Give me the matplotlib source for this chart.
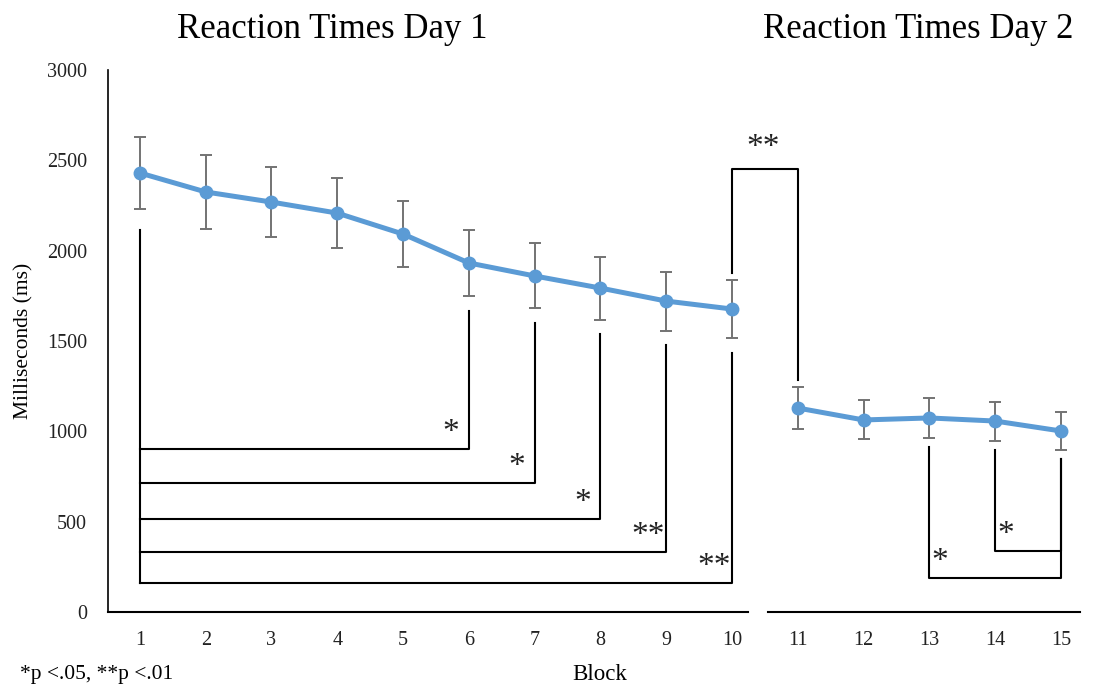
import matplotlib.pyplot as plt
import numpy as np

plt.rcParams['font.family'] = ['Liberation Serif', 'DejaVu Serif']

blocks = list(range(1, 16))
rt_mean = [2430, 2325, 2269, 2208, 2092, 1932, 1860, 1793, 1721, 1677,
           1129, 1063, 1074, 1057, 1002]
rt_err = [199, 205, 196, 194, 185, 185, 180, 174, 163, 163,
          116, 108, 111, 108, 105]
y_ticks = [0, 500, 1000, 1500, 2000, 2500, 3000]

# significance comparisons: (block a, block b, bar level in ms, label)
day1_brackets = [(1, 6, 902, '*'), (1, 7, 714, '*'), (1, 8, 515, '*'),
                 (1, 9, 332, '**'), (1, 10, 161, '**')]
day2_brackets = [(13, 15, 188, '*'), (14, 15, 338, '*')]
cross_bracket = (10, 11, 2452, '**')

line_col = '#5B9BD5'
err_col = '#737373'

fig = plt.figure(figsize=(10.95, 6.9), dpi=100)
ax = fig.add_axes([108/1095, 78/690, (1080-108)/1095, (612-70)/690])

m = np.array(rt_mean, dtype=float)
e = np.array(rt_err, dtype=float)
b = np.array(blocks)

for sel in (slice(0, 10), slice(10, 15)):
    ax.plot(b[sel], m[sel], color=line_col, lw=3.6, marker='o', ms=9,
            zorder=3, solid_capstyle='round')
ax.errorbar(b, m, yerr=e, fmt='none', ecolor=err_col, elinewidth=1.4,
            capsize=4.2, capthick=1.4, zorder=2)

ax.set_xlim(0.515, 15.29)
ax.set_ylim(0, 3000)
ax.set_yticks(y_ticks)
ax.set_yticklabels([str(t) for t in y_ticks])
ax.set_xticks(blocks)
ax.set_xticklabels([str(x) for x in blocks])
ax.tick_params(axis='both', length=0, labelsize=14.5, colors='#222222')
ax.tick_params(axis='y', pad=15)
ax.tick_params(axis='x', pad=14)
for s in ('top', 'right', 'bottom'):
    ax.spines[s].set_visible(False)
ax.spines['left'].set_linewidth(1.2)

# broken x axis line
ax.plot([0.515, 10.25], [0, 0], color='black', lw=1.5, clip_on=False)
ax.plot([10.55, 15.29], [0, 0], color='black', lw=1.5, clip_on=False)

lw_b = 1.5
star_fs = 24
# day 1 brackets
for a, bb, lev, lab in day1_brackets:
    top_b = m[bb-1] - e[bb-1] - 80
    ax.plot([bb, bb, a], [top_b, lev, lev], color='black', lw=lw_b)
    ax.text(bb - 0.27, lev + 5, lab, ha='center', va='bottom',
            fontsize=star_fs, color='#222222')
top_a = m[0] - e[0] - 117
ax.plot([1, 1], [top_a, min(br[2] for br in day1_brackets)], color='black', lw=lw_b)

# day 2 brackets
for a, bb, lev, lab in day2_brackets:
    ta = m[a-1] - e[a-1] - 50
    tb = m[bb-1] - e[bb-1] - 50
    ax.plot([a, a, bb, bb], [ta, lev, lev, tb], color='black', lw=lw_b)
    ax.text(a + 0.16, lev + 5, lab, ha='center', va='bottom',
            fontsize=star_fs, color='#222222')

# cross-day bracket
a, bb, lev, lab = cross_bracket
ta = m[a-1] + e[a-1] + 36
tb = m[bb-1] + e[bb-1] + 39
ax.plot([a, a, bb, bb], [ta, lev, lev, tb], color='black', lw=lw_b)
ax.text((a + bb) / 2 - 0.02, lev + 35, lab, ha='center', va='bottom',
        fontsize=star_fs, color='#222222')

ax.set_ylabel('Milliseconds (ms)', fontsize=15.5, labelpad=10)
fig.text(600/1095, 1 - 675/690, 'Block', ha='center', va='center', fontsize=16.5)
fig.text(20/1095, 1 - 675/690, '*p <.05, **p <.01', ha='left', va='center', fontsize=15.5)
fig.text(332/1095, 1 - 29/690, 'Reaction Times Day 1', ha='center', va='center', fontsize=25)
fig.text(918/1095, 1 - 29/690, 'Reaction Times Day 2', ha='center', va='center', fontsize=25)

fig.savefig('out.png', dpi=100)
